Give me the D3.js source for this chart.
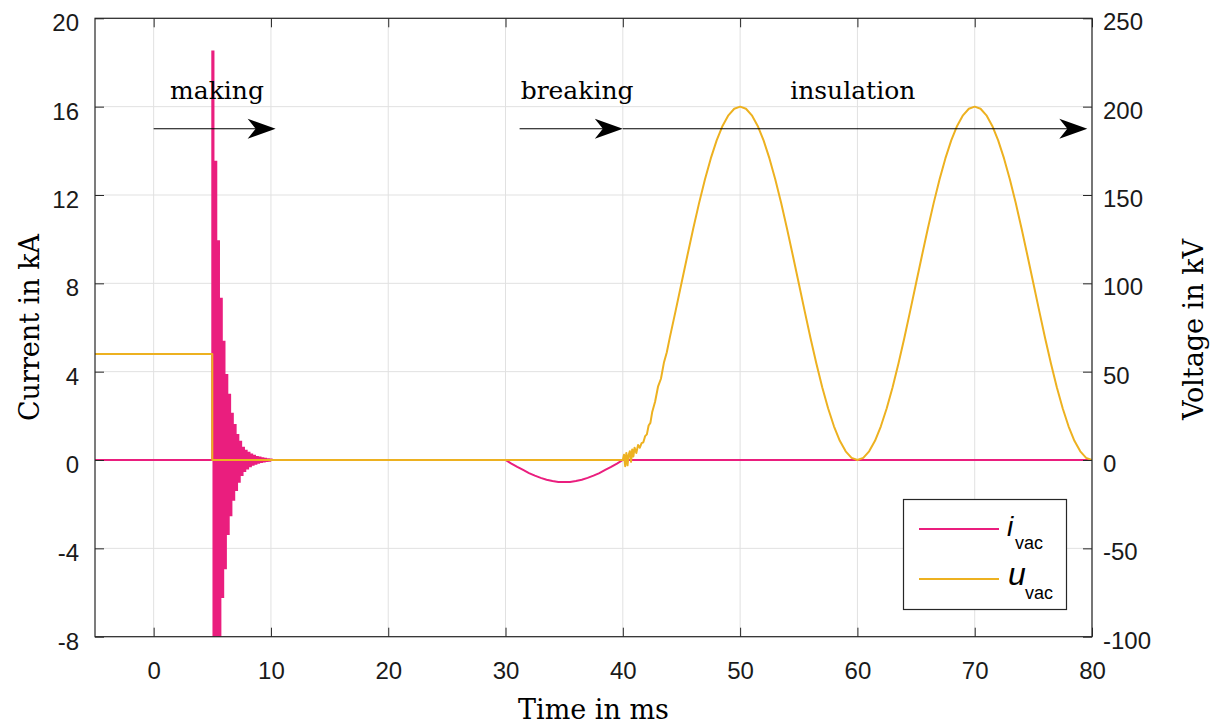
<!DOCTYPE html>
<html>
<head>
<meta charset="utf-8">
<script src="https://cdn.jsdelivr.net/npm/d3@7"></script>
<style>
  html, body { margin: 0; padding: 0; background: #fff; }
  svg { display: block; }
</style>
</head>
<body>
<svg id="chart" width="1218" height="724"></svg>
<script>
// ---------------- DATA ----------------
const xTicks = [0, 10, 20, 30, 40, 50, 60, 70, 80];
const yCurrentTicks = [-8, -4, 0, 4, 8, 12, 16, 20];
const yVoltageTicks = [-100, -50, 0, 50, 100, 150, 200, 250];

// current: flat part before making
const iBaseTime = [-5, 5.0];
const iBaseCurrent = [0, 0];
// current: making transient (alternating half-cycle peaks, kA)
const oscTime = [5.0, 5.10, 5.22, 5.34, 5.45, 5.57, 5.69, 5.81, 5.93, 6.04, 6.16,
                 6.28, 6.40, 6.52, 6.63, 6.75, 6.87, 6.99, 7.11, 7.22, 7.34,
                 7.46, 7.58, 7.70, 7.81, 7.93, 8.05, 8.17, 8.29, 8.40, 8.52,
                 8.64, 8.76, 8.88, 8.99, 9.11, 9.23, 9.35, 9.47, 9.58, 9.70,
                 9.82, 9.94, 10.06, 10.2];
const oscCurrent = [18.5, -16, 13.5, -11.5, 9.9, -8.6, 7.3, -6.2, 5.35, -4.9,
                    3.85, -3.35, 2.95, -2.5, 2.1, -1.8, 1.58, -1.36, 1.13, -0.98,
                    0.83, -0.68, 0.55, -0.5, 0.42, -0.38, 0.33, -0.28, 0.25, -0.22,
                    0.19, -0.17, 0.14, -0.12, 0.11, -0.09, 0.08, -0.07, 0.06, -0.05,
                    0.04, -0.03, 0.02, 0, 0];
// current: after making and breaking half-wave (kA)
const dipTime = [10.2, 30, 30.5, 31, 31.5, 32, 32.5, 33, 33.5, 34, 34.5, 35,
                 35.5, 36, 36.5, 37, 37.5, 38, 38.5, 39, 39.5, 40, 80];
const dipCurrent = [0, 0, -0.16, -0.31, -0.45, -0.59, -0.71, -0.81, -0.89, -0.95, -0.99, -1.0,
                    -0.99, -0.95, -0.89, -0.81, -0.71, -0.59, -0.45, -0.31, -0.16, 0, 0];

// voltage (kV)
const vTime = [-5, 5.0, 5.0, 40.0, 40.1, 40.2, 40.3, 40.4, 40.5, 40.6, 40.7, 40.8, 40.9,
               41.0, 41.15, 41.3, 41.45, 41.6, 41.75, 41.9, 42.05, 42.2, 42.35,
               42.5, 42.75, 43, 43.25, 43.5, 43.75, 44, 44.5, 45, 45.5, 46, 46.5, 47, 47.5, 48, 48.5, 49, 49.5,
               50, 50.5, 51, 51.5, 52, 52.5, 53, 53.5, 54, 54.5, 55, 55.5, 56, 56.5, 57, 57.5,
               58, 58.5, 59, 59.5, 60, 60.5, 61, 61.5, 62, 62.5, 63, 63.5, 64, 64.5, 65, 65.5,
               66, 66.5, 67, 67.5, 68, 68.5, 69, 69.5, 70, 70.5, 71, 71.5, 72, 72.5, 73, 73.5,
               74, 74.5, 75, 75.5, 76, 76.5, 77, 77.5, 78, 78.5, 79, 79.5, 80];
const vVoltage = [60, 60, 0, 0, 3, -3.5, 4, -3, 3, 5, -1, 6, 2,
                  7, 4, 8.5, 7, 9.5, 10, 13.5, 14.5, 19.5, 21,
                  27, 33, 41.5, 46, 55, 61, 69.1, 84.4, 100, 115.6, 130.9, 145.4, 158.8, 170.7, 180.9, 189.1, 195.1, 198.8,
                  200, 198.8, 195.1, 189.1, 180.9, 170.7, 158.8, 145.4, 130.9, 115.6, 100, 84.4, 69.1, 54.6, 41.2, 29.3,
                  19.1, 10.9, 4.9, 1.2, 0, 1.2, 4.9, 10.9, 19.1, 29.3, 41.2, 54.6, 69.1, 84.4, 100, 115.6,
                  130.9, 145.4, 158.8, 170.7, 180.9, 189.1, 195.1, 198.8, 200, 198.8, 195.1, 189.1, 180.9, 170.7, 158.8, 145.4,
                  130.9, 115.6, 100, 84.4, 69.1, 54.6, 41.2, 29.3, 19.1, 10.9, 4.9, 1.2, 0];

// annotations
const phaseLabels = ["making", "breaking", "insulation"];
const phaseLabelTime = [5.4, 36.1, 59.6];
const arrowStart = [0, 31.2, 40];
const arrowEnd = [10.4, 40, 79.6];
const arrowLevel = 15;     // kA
const labelLevel = 16.35;  // kA

// ---------------- CHART ----------------
const L = 95, R = 1092, T = 18.3, B = 636.7;
const pink = "#ea1e7e", orange = "#EDB120", axisCol = "#262626", gridCol = "#e1e1e1";

const svg = d3.select("#chart");
const x = d3.scaleLinear().domain([-5, 80]).range([L, R]);
const yI = d3.scaleLinear().domain([-8, 20]).range([B, T]);
const yV = d3.scaleLinear().domain([-100, 250]).range([B, T]);

svg.append("defs").append("clipPath").attr("id", "clip")
  .append("rect").attr("x", L).attr("y", T).attr("width", R - L).attr("height", B - T);

// grid
const grid = svg.append("g");
grid.selectAll("line.vg").data(xTicks).enter().append("line")
  .attr("x1", d => x(d)).attr("x2", d => x(d)).attr("y1", T).attr("y2", B)
  .attr("stroke", gridCol).attr("stroke-width", 1);
grid.selectAll("line.hg").data(yCurrentTicks).enter().append("line")
  .attr("x1", L).attr("x2", R).attr("y1", d => yI(d)).attr("y2", d => yI(d))
  .attr("stroke", gridCol).attr("stroke-width", 1);

// series
const plot = svg.append("g").attr("clip-path", "url(#clip)");
const iFlat = iBaseTime.map((t, k) => [t, iBaseCurrent[k]])
  .concat(dipTime.map((t, k) => [t, dipCurrent[k]]));
const iOsc = [[5.0, 0]].concat(oscTime.map((t, k) => [t, oscCurrent[k]]));
const vSeries = vTime.map((t, k) => [t, vVoltage[k]]);

plot.append("path").datum(iFlat)
  .attr("d", d3.line().x(d => x(d[0])).y(d => yI(d[1])))
  .attr("fill", "none").attr("stroke", pink).attr("stroke-width", 2);
plot.append("path").datum(iOsc)
  .attr("d", d3.line().x(d => x(d[0])).y(d => yI(d[1])).curve(d3.curveStepAfter))
  .attr("fill", "none").attr("stroke", pink).attr("stroke-width", 2);
plot.append("path").datum(vSeries)
  .attr("d", d3.line().x(d => x(d[0])).y(d => yV(d[1])))
  .attr("fill", "none").attr("stroke", orange).attr("stroke-width", 2)
  .attr("stroke-linejoin", "round");

// axes
const fontTicks = "'Liberation Sans', Arial, sans-serif";
const fmt = d => String(d);
function styleAxis(g) {
  g.select(".domain").remove();
  g.selectAll(".tick line").attr("stroke", axisCol).attr("stroke-width", 1);
  g.selectAll(".tick text").attr("fill", "#1a1a1a").style("font-family", fontTicks).style("font-size", "24px");
}
svg.append("g").attr("transform", `translate(0,${B})`)
  .call(d3.axisBottom(x).tickValues(xTicks).tickFormat(fmt).tickSizeInner(-9).tickSizeOuter(0).tickPadding(25))
  .call(styleAxis);
svg.append("g").attr("transform", `translate(0,${T})`)
  .call(d3.axisTop(x).tickValues(xTicks).tickSizeInner(-9).tickSizeOuter(0).tickFormat(""))
  .call(styleAxis);
svg.append("g").attr("transform", `translate(${L},0)`)
  .call(d3.axisLeft(yI).tickValues(yCurrentTicks).tickFormat(fmt).tickSizeInner(-9).tickSizeOuter(0).tickPadding(16))
  .call(styleAxis)
  .call(g => g.selectAll(".tick text").attr("dy", "0.52em"));
svg.append("g").attr("transform", `translate(${R},0)`)
  .call(d3.axisRight(yV).tickValues(yVoltageTicks).tickFormat(fmt).tickSizeInner(-9).tickSizeOuter(0).tickPadding(11))
  .call(styleAxis)
  .call(g => g.selectAll(".tick text").attr("dy", "0.48em"));

// frame
svg.append("rect").attr("x", L).attr("y", T).attr("width", R - L).attr("height", B - T)
  .attr("fill", "none").attr("stroke", axisCol).attr("stroke-width", 1.2);

// axis titles
const serif = "'DejaVu Serif', serif";
svg.append("text").attr("x", (L + R) / 2).attr("y", 719).attr("text-anchor", "middle")
  .style("font-family", serif).style("font-size", "27px").attr("fill", "#000").text("Time in ms");
svg.append("text").attr("transform", `translate(39,${(T + B) / 2}) rotate(-90)`).attr("text-anchor", "middle")
  .style("font-family", serif).style("font-size", "27px").attr("fill", "#000").text("Current in kA");
svg.append("text").attr("transform", `translate(1203,${(T + B) / 2 + 2}) rotate(-90)`).attr("text-anchor", "middle")
  .style("font-family", serif).style("font-size", "27px").attr("fill", "#000").text("Voltage in kV");

// annotations
const ann = svg.append("g");
phaseLabels.forEach((lab, k) => {
  ann.append("text").attr("x", x(phaseLabelTime[k])).attr("y", yI(labelLevel))
    .attr("text-anchor", "middle").style("font-family", serif).style("font-size", "25px")
    .attr("fill", "#000").text(lab);
});
arrowStart.forEach((s, k) => {
  const x0 = x(s), x1 = x(arrowEnd[k]), yy = yI(arrowLevel);
  ann.append("line").attr("x1", x0).attr("x2", x1 - 10).attr("y1", yy).attr("y2", yy)
    .attr("stroke", "#000").attr("stroke-width", 1.2);
  ann.append("path")
    .attr("d", `M${x1},${yy} L${x1 - 28},${yy - 10} L${x1 - 20},${yy} L${x1 - 28},${yy + 10} Z`)
    .attr("fill", "#000");
});

// legend
const lg = svg.append("g");
lg.append("rect").attr("x", 903.5).attr("y", 499.5).attr("width", 163).attr("height", 110)
  .attr("fill", "#fff").attr("stroke", axisCol).attr("stroke-width", 1.2);
lg.append("line").attr("x1", 919).attr("x2", 999).attr("y1", 529).attr("y2", 529)
  .attr("stroke", pink).attr("stroke-width", 2);
lg.append("line").attr("x1", 919).attr("x2", 999).attr("y1", 579).attr("y2", 579)
  .attr("stroke", orange).attr("stroke-width", 2);
const t1 = lg.append("text").attr("x", 1007).attr("y", 536).style("font-family", fontTicks).attr("fill", "#000");
t1.append("tspan").style("font-style", "italic").style("font-size", "28px").text("i");
t1.append("tspan").attr("x", 1015).attr("y", 549).style("font-size", "18px").text("vac");
const t2 = lg.append("text").attr("x", 1008).attr("y", 585).style("font-family", fontTicks).attr("fill", "#000");
t2.append("tspan").style("font-style", "italic").style("font-size", "32px").text("u");
t2.append("tspan").attr("x", 1025).attr("y", 599).style("font-size", "18px").text("vac");
</script>
</body>
</html>
